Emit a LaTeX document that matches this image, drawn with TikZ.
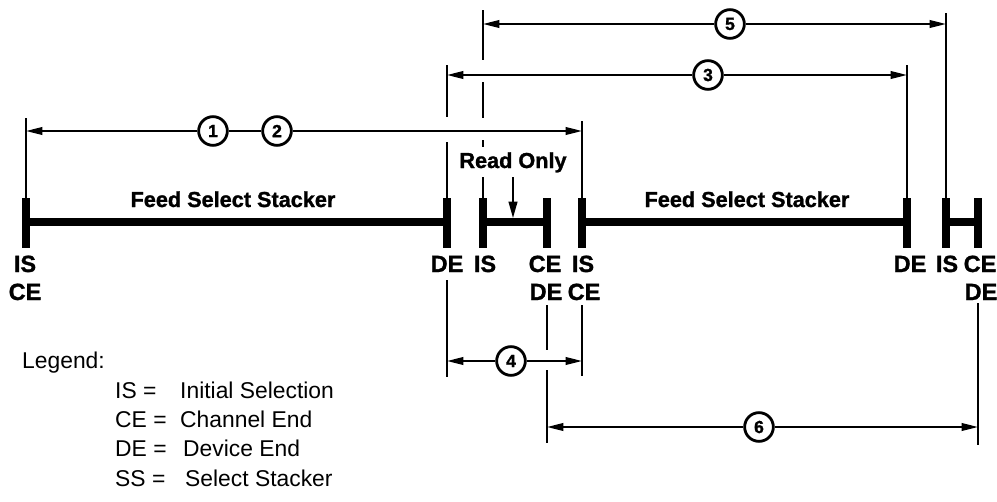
\documentclass[tikz,border=0pt]{standalone}
\usepackage{fontspec}
\setmainfont{Liberation Sans}[BoldFeatures={FakeBold=1.3}]
\usetikzlibrary{arrows.meta}

\begin{document}
\begin{tikzpicture}[x=0.03cm,y=-0.03cm,
  tip/.style={-{Triangle[length=14pt,width=6.5pt]}},
  dimline/.style={line width=1.5pt},
  extline/.style={line width=1.6pt},
  tickmark/.style={line width=7pt},
  bar/.style={line width=7pt},
  num/.style={circle,draw,line width=2.4pt,minimum size=24.5pt,inner sep=0pt,font=\fontsize{15}{15}\selectfont\bfseries},
  lbl/.style={anchor=base,inner sep=0pt,font=\fontsize{20}{20}\selectfont\bfseries},
  captxt/.style={anchor=base,inner sep=0pt,font=\fontsize{18.5}{18.5}\selectfont\bfseries},
  leg/.style={anchor=base west,inner sep=0pt,font=\fontsize{19.5}{19.5}\selectfont}]
  \useasboundingbox (0,0) rectangle (997,502);
  \foreach \n/\x in {a/26,b/447,c/483,d/547,e/582,f/907,g/946,h/978}{
    \coordinate (\n) at (\x,222);
    \draw[tickmark] (\x,198) -- (\x,248);
  }
  \draw[bar] (a) -- (b);
  \draw[bar] (c) -- (d);
  \draw[bar] (e) -- (f);
  \draw[bar] (g) -- (h);
  \node[captxt] (fss1) at (233,207) {Feed Select Stacker};
  \node[captxt] (fss2) at (747,207) {Feed Select Stacker};
  \node[captxt] (ro) at (513,168) {Read Only};
  \coordinate (roend) at (513,218);
  \draw[line width=1.5pt,-{Triangle[length=14pt,width=7.5pt]}] (ro.south) ++(0,4.5) -- (roend);
  \node[lbl] (l1) at (25,272) {IS};
  \node[lbl] (l2) at (25,300) {CE};
  \node[lbl] (l3) at (447,272) {DE};
  \node[lbl] (l4) at (485,272) {IS};
  \node[lbl] (l5) at (545,272) {CE};
  \node[lbl] (l6) at (546,300) {DE};
  \node[lbl] (l7) at (583,272) {IS};
  \node[lbl] (l8) at (584,300) {CE};
  \node[lbl] (l9) at (910,272) {DE};
  \node[lbl] (l10) at (947,272) {IS};
  \node[lbl] (l11) at (980,272) {CE};
  \node[lbl] (l12) at (981,300) {DE};
  \draw[extline] (26,118) -- (26,198);
  \draw[extline] (447,65) -- (447,117) (447,142) -- (447,198) (447,280) -- (447,377);
  \draw[extline] (483,10) -- (483,60) (483,82) -- (483,118) (483,140) -- (483,147) (483,177) -- (483,198);
  \draw[extline] (547,305) -- (547,350) (547,370) -- (547,443);
  \draw[extline] (582,121) -- (582,198) (582,305) -- (582,376);
  \draw[extline] (907,65) -- (907,198);
  \draw[extline] (946,13) -- (946,198);
  \draw[extline] (978,303) -- (978,445);
  \node[num] (n5) at (730,24) {5};
  \coordinate (d5l) at (483,24);
  \coordinate (d5r) at (946,24);
  \draw[dimline,tip] (n5) -- (d5l);
  \draw[dimline,tip] (n5) -- (d5r);
  \node[num] (n3) at (708,75) {3};
  \coordinate (d3l) at (447,75);
  \coordinate (d3r) at (907,75);
  \draw[dimline,tip] (n3) -- (d3l);
  \draw[dimline,tip] (n3) -- (d3r);
  \node[num] (n1) at (213,131) {1};
  \node[num] (n2) at (277,131) {2};
  \coordinate (d12l) at (26,131);
  \coordinate (d12r) at (582,131);
  \draw[dimline] (n1) -- (n2);
  \draw[dimline,tip] (n1) -- (d12l);
  \draw[dimline,tip] (n2) -- (d12r);
  \node[num] (n4) at (511,361) {4};
  \coordinate (d4l) at (447,361);
  \coordinate (d4r) at (582,361);
  \draw[dimline,tip] (n4) -- (d4l);
  \draw[dimline,tip] (n4) -- (d4r);
  \node[num] (n6) at (759,427) {6};
  \coordinate (d6l) at (547,427);
  \coordinate (d6r) at (978,427);
  \draw[dimline,tip] (n6) -- (d6l);
  \draw[dimline,tip] (n6) -- (d6r);
  \node[leg] (lg) at (22,368) {Legend:};
  \node[leg] (k1) at (115,398) {IS =};
  \node[leg] (v1) at (180,398) {Initial Selection};
  \node[leg] (k2) at (115,427) {CE =};
  \node[leg] (v2) at (180,427) {Channel End};
  \node[leg] (k3) at (115,456) {DE =};
  \node[leg] (v3) at (183,456) {Device End};
  \node[leg] (k4) at (115,486) {SS =};
  \node[leg] (v4) at (185,486) {Select Stacker};
\end{tikzpicture}
\end{document}
